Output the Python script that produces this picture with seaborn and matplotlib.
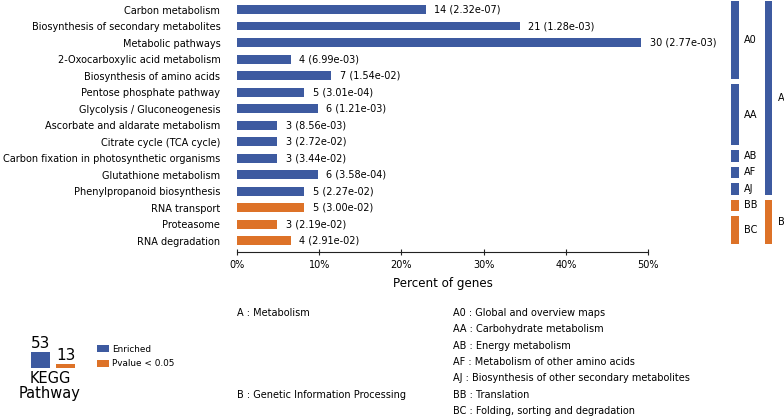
import numpy as np
import pandas as pd
import matplotlib
matplotlib.use("Agg")
import matplotlib.pyplot as plt
from matplotlib.patches import Patch
import seaborn as sns

# ---------------- data ----------------
pathways = [
    "Carbon metabolism",
    "Biosynthesis of secondary metabolites",
    "Metabolic pathways",
    "2-Oxocarboxylic acid metabolism",
    "Biosynthesis of amino acids",
    "Pentose phosphate pathway",
    "Glycolysis / Gluconeogenesis",
    "Ascorbate and aldarate metabolism",
    "Citrate cycle (TCA cycle)",
    "Carbon fixation in photosynthetic organisms",
    "Glutathione metabolism",
    "Phenylpropanoid biosynthesis",
    "RNA transport",
    "Proteasome",
    "RNA degradation",
]
counts = [14, 21, 30, 4, 7, 5, 6, 3, 3, 3, 6, 5, 5, 3, 4]
pvalues = ["2.32e-07", "1.28e-03", "2.77e-03", "6.99e-03", "1.54e-02",
           "3.01e-04", "1.21e-03", "8.56e-03", "2.72e-02", "3.44e-02",
           "3.58e-04", "2.27e-02", "3.00e-02", "2.19e-02", "2.91e-02"]
classes = ["A"] * 12 + ["B"] * 3
total_genes = 61

subgroups = ["A0", "AA", "AB", "AF", "AJ", "BB", "BC"]
subgroup_sizes = [5, 4, 1, 1, 1, 1, 2]
subgroup_names = ["Global and overview maps", "Carbohydrate metabolism",
                  "Energy metabolism", "Metabolism of other amino acids",
                  "Biosynthesis of other secondary metabolites",
                  "Translation", "Folding, sorting and degradation"]
maingroups = ["A", "B"]
maingroup_sizes = [12, 3]
maingroup_names = ["Metabolism", "Genetic Information Processing"]

legend_labels = ["Enriched", "Pvalue < 0.05"]
kegg_totals = [53, 13]
xticks = [0, 10, 20, 30, 40, 50]
xtick_labels = ["0%", "10%", "20%", "30%", "40%", "50%"]

# ---------------- style ----------------
BLUE = "#3D5AA0"
ORANGE = "#DD7228"
palette = {"A": BLUE, "B": ORANGE}

sns.set_theme(style="white")
plt.rcParams["font.family"] = ["DejaVu Sans"]
plt.rcParams["text.color"] = "black"
plt.rcParams["xtick.color"] = "black"
plt.rcParams["ytick.color"] = "black"
plt.rcParams["axes.labelcolor"] = "black"

FS = 7.0
W, H = 784, 418
fig = plt.figure(figsize=(W / 100, H / 100), dpi=100)

df = pd.DataFrame({
    "pathway": pathways,
    "percent": np.array(counts) / total_genes * 100,
    "cls": classes,
})

# main axes
ax_top_px, ax_bot_px = 1.45, 252
ax_left_px, ax_right_px = 237, 648
ax = fig.add_axes([ax_left_px / W, 1 - ax_bot_px / H,
                   (ax_right_px - ax_left_px) / W, (ax_bot_px - ax_top_px) / H])
sns.barplot(data=df, y="pathway", x="percent", hue="cls", palette=palette,
            dodge=False, width=0.52, legend=False, ax=ax, orient="h",
            linewidth=0, saturation=1)
n = len(pathways)
ylim = (n - 1 + 0.68, -0.5)
ax.set_ylim(*ylim)
ax.set_xlim(0, 50)
ax.set_xticks(xticks)
ax.set_xticklabels(xtick_labels, fontsize=FS)
ax.tick_params(axis="y", length=0, pad=12, labelsize=FS)
ax.tick_params(axis="x", direction="inout", length=5, width=0.8, pad=3,
               bottom=True, color="#222222")
ax.set_ylabel("")
ax.set_xlabel("Percent of genes", fontsize=8.6, labelpad=5)
for s in ["top", "right", "left"]:
    ax.spines[s].set_visible(False)
ax.spines["bottom"].set_color("#222222")
ax.spines["bottom"].set_linewidth(0.8)

for i, (c, p) in enumerate(zip(counts, pvalues)):
    ax.annotate(f"{c} ({p})", xy=(c / total_genes * 100, i),
                xytext=(6, 0), textcoords="offset points",
                va="center", ha="left", fontsize=FS)

# group axes on the right
gx_left, gx_right = 725, 784
gax = fig.add_axes([gx_left / W, 1 - ax_bot_px / H,
                    (gx_right - gx_left) / W, (ax_bot_px - ax_top_px) / H])
gax.set_ylim(*ylim)
gax.set_xlim(0, 1)
gax.axis("off")

start = 0
for name, size in zip(subgroups, subgroup_sizes):
    col = palette[name[0]]
    gax.bar(0.17, size - 0.3, bottom=start - 0.5, width=0.135, color=col,
            align="center", linewidth=0)
    gax.text(0.32, start - 0.5 + (size - 0.3) / 2, name, va="center",
             ha="left", fontsize=FS)
    start += size
start = 0
for name, size in zip(maingroups, maingroup_sizes):
    col = palette[name]
    gax.bar(0.74, size - 0.3, bottom=start - 0.5, width=0.12, color=col,
            align="center", linewidth=0)
    gax.text(0.9, start - 0.5 + (size - 0.3) / 2, name, va="center",
             ha="left", fontsize=FS)
    start += size

# KEGG mini bars
kax = fig.add_axes([28 / W, 1 - 368 / H, 50 / W, 16 / H])
kax.bar([0, 1], kegg_totals, width=0.78, color=[BLUE, ORANGE], linewidth=0)
kax.set_xlim(-0.5, 1.5)
kax.set_ylim(0, max(kegg_totals))
kax.axis("off")
for i, v in enumerate(kegg_totals):
    kax.annotate(str(v), xy=(i, v), xytext=(0, 1), textcoords="offset points",
                 ha="center", va="bottom", fontsize=11)
fig.text(50 / W, 1 - 386 / H, "KEGG\nPathway", ha="center", va="center",
         fontsize=10.5, linespacing=1.0)

handles = [Patch(facecolor=BLUE, linewidth=0), Patch(facecolor=ORANGE, linewidth=0)]
fig.legend(handles, legend_labels, loc="upper left",
           bbox_to_anchor=(97 / W, 1 - 345 / H), frameon=False,
           fontsize=6.4, handlelength=1.35, handleheight=0.85,
           handletextpad=0.35, labelspacing=0.6, borderpad=0, borderaxespad=0)

# category descriptions
row_y = [313 + 16.33 * i for i in range(len(subgroups))]
for name, desc, y in zip(subgroups, subgroup_names, row_y):
    fig.text(453 / W, 1 - y / H, f"{name} : {desc}", ha="left", va="center",
             fontsize=FS)
main_rows = [0, 5]
for name, desc, r in zip(maingroups, maingroup_names, main_rows):
    fig.text(237 / W, 1 - row_y[r] / H, f"{name} : {desc}", ha="left",
             va="center", fontsize=FS)

fig.savefig("out.png", dpi=100)
